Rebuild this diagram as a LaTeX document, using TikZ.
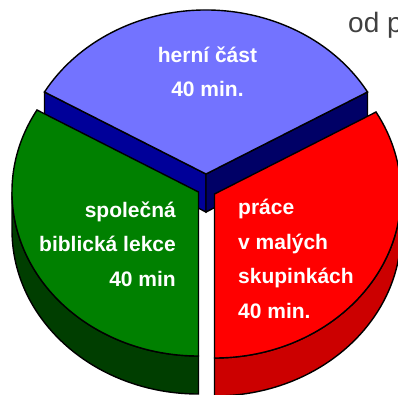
\documentclass[tikz,border=0pt]{standalone}
\usepackage{fontspec}
\setmainfont{Liberation Sans}

\definecolor{herniTop}{RGB}{115,115,255}
\definecolor{herniLeft}{RGB}{0,0,153}
\definecolor{herniRight}{RGB}{0,0,102}
\definecolor{lekceTop}{RGB}{0,128,0}
\definecolor{lekceSide}{RGB}{0,62,0}
\definecolor{praceTop}{RGB}{255,0,0}
\definecolor{praceSide}{RGB}{204,0,0}

\tikzset{
	slice/.style={draw=black, line width=1.4pt},
	lbl/.style={text=white, inner sep=0pt, font=\bfseries\fontsize{21}{34.5}\selectfont}
}

\begin{document}
\begin{tikzpicture}[x=1pt, y=1pt]
	\useasboundingbox (0,0) rectangle (398,394);

	\pgfmathsetmacro{\rx}{186.5}
	\pgfmathsetmacro{\ry}{164}
	\pgfmathsetmacro{\d}{38}

	% Draw the blue slice (herni cast)
	\begin{scope}[shift={(206,220)}]
		\draw[slice, fill=herniLeft] (0,0) -- (150:{\rx} and {\ry}) -- ++(0,-\d) -- (0,-\d) -- cycle;
		\draw[slice, fill=herniRight] (0,0) -- (30:{\rx} and {\ry}) -- ++(0,-\d) -- (0,-\d) -- cycle;
		\draw[slice, fill=herniTop] (0,0) -- (30:{\rx} and {\ry})
			arc[start angle=30, end angle=150, x radius=\rx, y radius=\ry] -- cycle;
	\end{scope}

	% Draw the green slice (spolecna lekce)
	\begin{scope}[shift={(198.5,202)}]
		\draw[slice, fill=lekceSide] (180:{\rx} and {\ry})
			arc[start angle=180, end angle=270, x radius=\rx, y radius=\ry] -- ++(0,-\d)
			arc[start angle=270, end angle=180, x radius=\rx, y radius=\ry] -- cycle;
		\draw[slice, fill=lekceTop] (0,0) -- (150:{\rx} and {\ry})
			arc[start angle=150, end angle=270, x radius=\rx, y radius=\ry] -- cycle;
	\end{scope}

	% Draw the red slice (prace ve skupinkach)
	\begin{scope}[shift={(214.5,200)}]
		\draw[slice, fill=praceSide] (270:{\rx} and {\ry})
			arc[start angle=270, end angle=360, x radius=\rx, y radius=\ry] -- ++(0,-\d)
			arc[start angle=360, end angle=270, x radius=\rx, y radius=\ry] -- cycle;
		\draw[slice, fill=praceTop] (0,0) -- (270:{\rx} and {\ry})
			arc[start angle=270, end angle=390, x radius=\rx, y radius=\ry] -- cycle;
	\end{scope}

	% Label the slices (base = last line)
	\node[lbl, align=center, anchor=base] (herni) at (207.5,297) {herní část\\40 min.};
	\node[lbl, align=right, anchor=base east] (lekce) at (176,108) {společná\\biblická lekce\\40 min};
	\node[lbl, align=left, anchor=base west] (prace) at (238,76) {práce\\v malých\\skupinkách\\40 min.};

	% Label the corner
	\node[anchor=base west, inner sep=0pt, text=black!75, font=\fontsize{28}{28}\selectfont] (odp) at (348,361) {od p};
\end{tikzpicture}
\end{document}
